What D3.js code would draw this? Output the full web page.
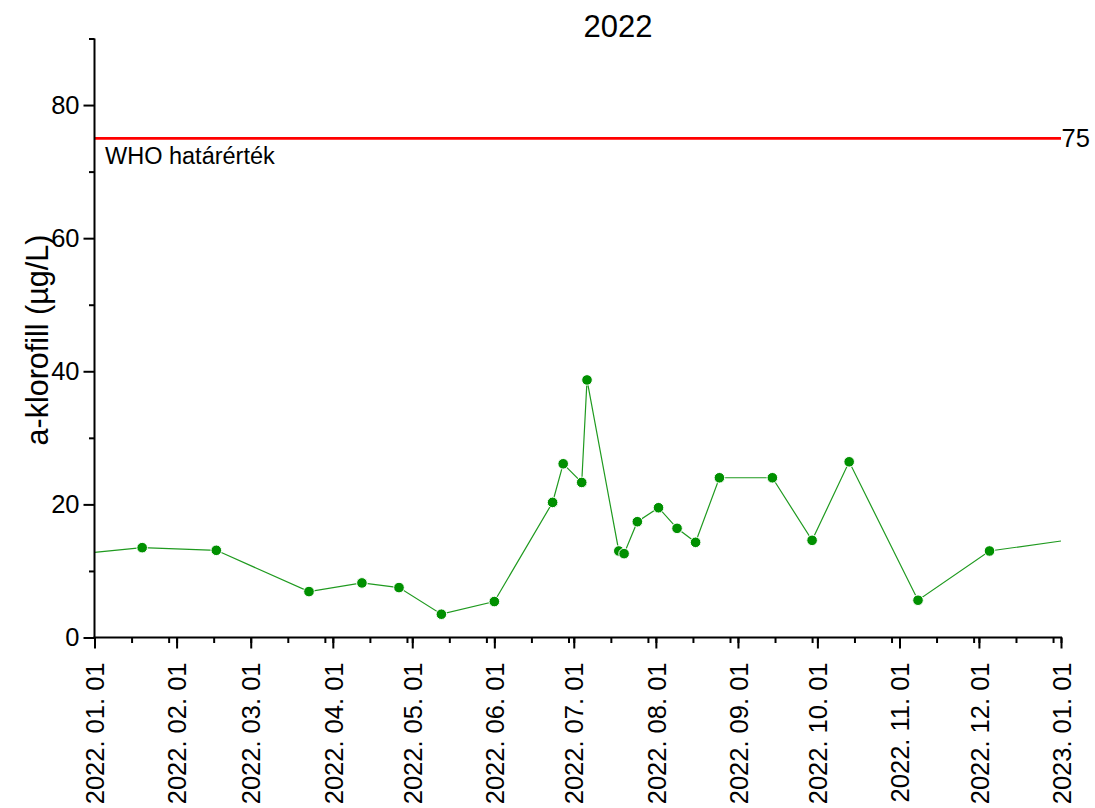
<!DOCTYPE html>
<html>
<head>
<meta charset="utf-8">
<script src="https://cdn.jsdelivr.net/npm/d3@7"></script>
<style>
  html, body { margin: 0; padding: 0; background: #fff; }
  svg { display: block; font-family: "Liberation Sans", Arial, sans-serif; }
</style>
</head>
<body>
<svg id="chart" width="1095" height="808"></svg>
<script>
// Sampling dates (2022) and measured chlorophyll-a concentrations (µg/L)
const sampleDates = [
  "2022-01-19", "2022-02-16", "2022-03-23", "2022-04-12", "2022-04-26",
  "2022-05-12", "2022-06-01", "2022-06-23", "2022-06-27", "2022-07-04",
  "2022-07-06", "2022-07-18", "2022-07-20", "2022-07-25", "2022-08-02",
  "2022-08-09", "2022-08-16", "2022-08-25", "2022-09-14", "2022-09-29",
  "2022-10-13", "2022-11-08", "2022-12-05"
];
const chlorophyll = [
  13.5, 13.1, 6.9, 8.2, 7.5,
  3.5, 5.4, 20.3, 26.1, 23.3,
  38.7, 13.0, 12.6, 17.4, 19.5,
  16.4, 14.3, 24.0, 24.0, 14.6,
  26.4, 5.6, 13.0
];
// Line continues to the year boundaries (values where the trace meets the frame)
const edgeDates = ["2022-01-01", "2023-01-01"];
const edgeValues = [12.8, 14.5];

// WHO guideline value
const whoLimit = 75;
const whoLabel = "WHO határérték";

const chartTitle = "2022";
const yTitle = "a-klorofill (µg/L)";
const yMajorTicks = [0, 20, 40, 60, 80];
const yMinorTicks = [10, 30, 50, 70, 90];

const parse = d3.timeParse("%Y-%m-%d");
const points = sampleDates.map((d, i) => ({ date: parse(d), value: chlorophyll[i] }));
const edges = edgeDates.map((d, i) => ({ date: parse(d), value: edgeValues[i] }));
const linePoints = [edges[0], ...points, edges[1]];

const svg = d3.select("#chart");

const x = d3.scaleTime()
  .domain([parse("2022-01-01"), parse("2023-01-01")])
  .range([94.5, 1061]);
const y = d3.scaleLinear()
  .domain([0, 90])
  .range([637.5, 38.5]);

const fontTick = 25.5;

// --- guideline
svg.append("line")
  .attr("x1", x.range()[0]).attr("x2", x.range()[1])
  .attr("y1", y(whoLimit)).attr("y2", y(whoLimit))
  .attr("stroke", "#ff0000").attr("stroke-width", 2.6);
svg.append("text")
  .attr("x", x.range()[1] + 0.5).attr("y", y(whoLimit))
  .attr("dy", "0.35em")
  .attr("font-size", fontTick)
  .text(whoLimit);
svg.append("text")
  .attr("x", 105).attr("y", y(whoLimit) + 26)
  .attr("font-size", 23.5)
  .text(whoLabel);

// --- data line and markers
const line = d3.line().x(d => x(d.date)).y(d => y(d.value));
svg.append("path")
  .datum(linePoints)
  .attr("d", line)
  .attr("fill", "none")
  .attr("stroke", "#1f9a1f")
  .attr("stroke-width", 1.2);
svg.append("g")
  .selectAll("circle")
  .data(points)
  .join("circle")
  .attr("cx", d => x(d.date))
  .attr("cy", d => y(d.value))
  .attr("r", 5.3)
  .attr("fill", "#009000")
  .attr("stroke", "#ffffff")
  .attr("stroke-width", 1);

// --- x axis: month starts (major) and every 14 days within a month (minor)
const xMinor = d3.axisBottom(x)
  .ticks(d3.timeDay.every(14))
  .tickSize(5.5)
  .tickFormat("");
const xMajor = d3.axisBottom(x)
  .ticks(d3.timeMonth.every(1))
  .tickSize(11)
  .tickFormat(d3.timeFormat("%Y. %m. %d"));

const gxMinor = svg.append("g").attr("transform", `translate(0,${y(0)})`).call(xMinor);
const gx = svg.append("g").attr("transform", `translate(0,${y(0)})`).call(xMajor);
[gxMinor, gx].forEach(g => {
  g.select(".domain").remove();
  g.selectAll(".tick line").attr("stroke", "#000").attr("stroke-width", 2);
});
gx.selectAll(".tick text")
  .attr("font-size", fontTick)
  .attr("font-family", "Liberation Sans, Arial, sans-serif")
  .attr("fill", "#000")
  .attr("text-anchor", "end")
  .attr("transform", "rotate(-90)")
  .attr("x", -25)
  .attr("y", 0)
  .attr("dy", "0.36em");

// --- y axis
const yMinor = d3.axisLeft(y).tickValues(yMinorTicks).tickSize(5.5).tickFormat("");
const yMajor = d3.axisLeft(y).tickValues(yMajorTicks).tickSize(11).tickPadding(4);
const gyMinor = svg.append("g").attr("transform", `translate(${x.range()[0]},0)`).call(yMinor);
const gy = svg.append("g").attr("transform", `translate(${x.range()[0]},0)`).call(yMajor);
[gyMinor, gy].forEach(g => {
  g.select(".domain").remove();
  g.selectAll(".tick line").attr("stroke", "#000").attr("stroke-width", 2);
});
gy.selectAll(".tick text")
  .attr("font-size", fontTick)
  .attr("font-family", "Liberation Sans, Arial, sans-serif")
  .attr("fill", "#000");

// axis lines
svg.append("line")
  .attr("x1", x.range()[0]).attr("x2", x.range()[0])
  .attr("y1", y.range()[1]).attr("y2", y.range()[0] + 1)
  .attr("stroke", "#000").attr("stroke-width", 2);
svg.append("line")
  .attr("x1", x.range()[0] - 1).attr("x2", x.range()[1] + 1)
  .attr("y1", y(0)).attr("y2", y(0))
  .attr("stroke", "#000").attr("stroke-width", 2);

// --- titles
svg.append("text")
  .attr("x", 618).attr("y", 37)
  .attr("text-anchor", "middle")
  .attr("font-size", 31)
  .text(chartTitle);
svg.append("text")
  .attr("transform", "translate(48,340) rotate(-90)")
  .attr("text-anchor", "middle")
  .attr("font-size", 30.5)
  .text(yTitle);
</script>
</body>
</html>
